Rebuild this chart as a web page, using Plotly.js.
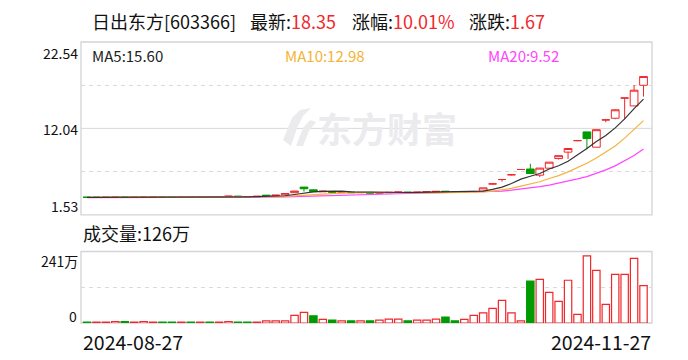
<!DOCTYPE html>
<html><head><meta charset="utf-8">
<script src="https://cdn.plot.ly/plotly-3.0.1.min.js"></script>
<style>html,body{margin:0;padding:0;background:#fff;}#chart{width:688px;height:360px;}</style>
</head><body><div id="chart"></div>
<script>
const dates = ['2024-08-27','2024-08-28','2024-08-29','2024-08-30',
'2024-09-02','2024-09-03','2024-09-04','2024-09-05','2024-09-06','2024-09-09','2024-09-10','2024-09-11','2024-09-12','2024-09-13','2024-09-18','2024-09-19','2024-09-20','2024-09-23','2024-09-24','2024-09-25','2024-09-26','2024-09-27','2024-09-30',
'2024-10-08','2024-10-09','2024-10-10','2024-10-11','2024-10-14','2024-10-15','2024-10-16','2024-10-17','2024-10-18','2024-10-21','2024-10-22','2024-10-23','2024-10-24','2024-10-25','2024-10-28','2024-10-29','2024-10-30','2024-10-31',
'2024-11-01','2024-11-04','2024-11-05','2024-11-06','2024-11-07','2024-11-08','2024-11-11','2024-11-12','2024-11-13','2024-11-14','2024-11-15','2024-11-18','2024-11-19','2024-11-20','2024-11-21','2024-11-22','2024-11-25','2024-11-26','2024-11-27'];
const openP  = [3.67,3.66,3.66,3.67,3.68,3.66,3.67,3.68,3.69,3.67,3.66,3.67,3.66,3.67,3.66,3.70,3.80,3.76,3.70,3.92,3.86,3.96,4.22,4.90,4.57,4.33,4.38,4.28,4.30,4.22,4.25,4.16,4.20,4.24,4.30,4.22,4.26,4.32,4.40,4.30,4.28,4.33,4.41,5.29,5.82,6.40,7.04,7.10,6.35,7.20,8.37,9.15,10.55,11.61,9.75,13.07,13.27,15.73,14.77,17.28];
const highP  = [3.67,3.67,3.68,3.68,3.76,3.68,3.76,3.76,3.69,3.68,3.68,3.67,3.68,3.67,3.67,3.82,3.82,3.77,3.79,3.94,3.94,4.14,4.44,4.92,4.60,4.44,4.40,4.35,4.32,4.28,4.26,4.24,4.28,4.32,4.31,4.30,4.35,4.40,4.42,4.31,4.34,4.45,4.81,5.29,5.82,6.40,7.04,7.74,7.21,7.93,8.72,9.59,10.55,11.61,11.88,13.07,14.38,15.73,17.32,18.35];
const lowP   = [3.65,3.65,3.66,3.66,3.66,3.65,3.66,3.67,3.66,3.65,3.66,3.65,3.66,3.65,3.65,3.70,3.72,3.69,3.70,3.82,3.85,3.95,4.20,4.35,4.32,4.30,4.26,4.26,4.20,4.20,4.16,4.14,4.18,4.22,4.20,4.20,4.25,4.30,4.28,4.26,4.27,4.30,4.40,5.20,5.57,6.30,7.04,6.55,6.11,7.18,8.25,8.33,10.48,9.50,9.75,12.79,13.15,13.15,14.77,15.90];
const closeP = [3.66,3.66,3.67,3.68,3.66,3.67,3.68,3.69,3.67,3.66,3.67,3.66,3.67,3.66,3.66,3.80,3.74,3.70,3.78,3.84,3.92,4.12,4.42,4.70,4.35,4.40,4.28,4.32,4.22,4.25,4.18,4.22,4.26,4.30,4.22,4.28,4.33,4.38,4.30,4.28,4.33,4.37,4.81,5.29,5.82,6.40,7.04,6.55,7.21,7.93,8.72,9.59,10.55,10.80,11.88,13.07,14.30,15.73,16.68,18.35];
const volume = [3,3,3,5,5,3,5,3,3,3,3,3,3,3,3,5,3,3,3,7,7,7,26,36,24,12,10,7,7,7,7,10,13,13,7,10,10,13,20,7,12,26,34,49,76,34,7,141,147,103,73,144,29,226,177,63,164,164,218,126];
const ma5  = [3.64,3.64,3.64,3.64,3.64,3.65,3.65,3.66,3.66,3.66,3.66,3.66,3.66,3.66,3.66,3.68,3.70,3.71,3.74,3.77,3.80,3.85,4.00,4.20,4.32,4.38,4.43,4.41,4.31,4.29,4.25,4.23,4.23,4.24,4.24,4.26,4.28,4.30,4.30,4.31,4.32,4.33,4.42,4.62,4.90,5.34,5.87,6.22,6.55,7.10,7.49,8.05,8.80,9.60,10.45,11.18,12.10,13.20,14.45,15.60];
const ma10 = [3.66,3.66,3.66,3.66,3.66,3.66,3.66,3.66,3.66,3.66,3.66,3.66,3.66,3.66,3.66,3.67,3.68,3.69,3.70,3.72,3.74,3.77,3.82,3.90,3.97,4.04,4.10,4.16,4.22,4.25,4.26,4.25,4.22,4.20,4.19,4.18,4.18,4.19,4.20,4.22,4.25,4.27,4.33,4.42,4.55,4.75,5.02,5.25,5.55,5.95,6.30,6.75,7.25,7.80,8.45,9.15,9.90,10.85,11.90,12.98];
const ma20 = [3.62,3.62,3.62,3.62,3.62,3.62,3.62,3.62,3.62,3.62,3.62,3.62,3.62,3.62,3.62,3.64,3.65,3.66,3.67,3.68,3.68,3.70,3.73,3.77,3.81,3.85,3.88,3.92,3.95,3.98,4.00,4.03,4.06,4.09,4.12,4.15,4.17,4.19,4.21,4.22,4.23,4.25,4.28,4.33,4.42,4.52,4.64,4.76,4.95,5.15,5.38,5.64,5.90,6.18,6.55,7.00,7.48,8.08,8.75,9.52];
const priceTicks = [1.53, 12.04, 22.54];
const volTicks = [0, 241];
const stockName = '日出东方';
const stockCode = '603366';
const lastPrice = '18.35';
const pctChange = '10.01%';
const priceChange = '1.67';
const lastVolume = '126万';

const RED = '#f0272b', GREEN = '#009b00';
const W = 688, H = 360, L = 81, R = 652, T = 42, B = 323.3;
const px = x => (x - L) / (R - L);
const py = y => (B - y) / (B - T);
const FONT = "'Noto Sans CJK SC', 'Noto Sans', sans-serif";
const idx = dates.map((d, i) => i);

const volUp = volume.map((v, i) => closeP[i] >= (i > 0 ? closeP[i-1] : openP[i]));

const traces = [
  {type:'candlestick', x: idx, open: openP, high: highP, low: lowP, close: closeP,
   xaxis:'x', yaxis:'y', whiskerwidth: 0, hoverinfo:'skip',
   increasing:{line:{color:RED, width:1}, fillcolor:'#ffffff'},
   decreasing:{line:{color:GREEN, width:1}, fillcolor:GREEN}},
  {type:'scatter', mode:'lines', x: idx, y: ma20, line:{color:'#ff45ff', width:1.2}, hoverinfo:'skip'},
  {type:'scatter', mode:'lines', x: idx, y: ma10, line:{color:'#f7b23b', width:1.2}, hoverinfo:'skip'},
  {type:'scatter', mode:'lines', x: idx, y: ma5, line:{color:'#333333', width:1.2}, hoverinfo:'skip'},
  {type:'bar', x: idx, y: volume, xaxis:'x', yaxis:'y2', width: 0.78, hoverinfo:'skip',
   marker:{color: volUp.map(u => u ? '#ffffff' : GREEN),
           line:{color: volUp.map(u => u ? RED : GREEN), width:1.2}}}
];

const pMid1 = (priceTicks[0] + priceTicks[1]) / 2, pMid2 = (priceTicks[1] + priceTicks[2]) / 2;
const vMid = (volTicks[0] + volTicks[1]) / 2;

const ann = [];
const A = (text, x, y, xanchor, size, color, extra) => ann.push(Object.assign({
  text, xref:'paper', yref:'paper', x: px(x), y: py(y), xanchor, yanchor:'middle',
  showarrow:false, font:{family:FONT, size, color}, borderpad:0}, extra || {}));

A(stockName + '[' + stockCode + ']', 91, 21, 'left', 18, '#111');
A('最新:<span style="color:' + RED + '">' + lastPrice + '</span>', 249, 21, 'left', 18, '#111');
A('涨幅:<span style="color:' + RED + '">' + pctChange + '</span>', 351, 21, 'left', 18, '#111');
A('涨跌:<span style="color:' + RED + '">' + priceChange + '</span>', 468, 21, 'left', 18, '#111');
A('MA5:' + ma5[ma5.length-1].toFixed(2), 91, 56, 'left', 15, '#222');
A('MA10:' + ma10[ma10.length-1].toFixed(2), 284, 56, 'left', 15, '#f5b335');
A('MA20:' + ma20[ma20.length-1].toFixed(2), 487, 56, 'left', 15, '#ff44ff');
A(priceTicks[2].toFixed(2), 79, 53, 'right', 14, '#111');
A(priceTicks[1].toFixed(2), 79, 129, 'right', 14, '#111');
A(priceTicks[0].toFixed(2), 79, 205.7, 'right', 14, '#111');
A('成交量:' + lastVolume, 82, 233.7, 'left', 18, '#111');
A(volTicks[1] + '万', 79, 261, 'right', 14, '#111');
A(String(volTicks[0]), 78, 316, 'right', 14, '#111');
A(dates[0], 82, 341.7, 'left', 19.5, '#111');
A(dates[dates.length-1], 652, 341.7, 'right', 19.5, '#111');
A('东方财富', 316, 128, 'left', 35, '#ebebee', {font:{family:FONT, size:35, color:'#ebebee', weight:700}});

// watermark logo (decorative)
const P = (pts) => pts.map((p, k) => (k ? 'L' : 'M') + px(p[0]).toFixed(4) + ',' + py(p[1]).toFixed(4)).join(' ') + ' Z';
const logo1 = P([[283,140],[292,118],[300,110],[311,108],[303,116],[297,128],[291,146]]);
const logo2 = P([[296,146],[303,128],[310,120],[316,122],[309,131],[303,146]]);

const border = (yref) => ({type:'rect', xref:'x domain', yref: yref + ' domain', x0:0, x1:1, y0:0, y1:1,
  line:{color:'#d3d3d8', width:1.3}, layer:'below'});

const layout = {
  width: W, height: H, paper_bgcolor:'#fff', plot_bgcolor:'#fff', showlegend:false,
  margin:{l:L, r:W-R, t:T, b:H-B, pad:0},
  boxgap: 0.18, boxgroupgap: 0,
  xaxis:{range:[-0.64, 59.9], showgrid:false, zeroline:false, showticklabels:false, ticks:'', showline:false,
         rangeslider:{visible:false}, fixedrange:true},
  yaxis:{domain:[py(215), 1], range:[priceTicks[0], priceTicks[2]], tickvals:[pMid1, pMid2], showticklabels:false,
         showgrid:true, gridcolor:'#dadada', griddash:'4px,4px', gridwidth:1, zeroline:false, ticks:'', fixedrange:true},
  yaxis2:{domain:[0, py(251.7)], range:[volTicks[0], volTicks[1]], tickvals:[vMid], showticklabels:false, anchor:'x',
         showgrid:true, gridcolor:'#dadada', griddash:'4px,4px', gridwidth:1, zeroline:false, ticks:'', fixedrange:true},
  shapes:[
    border('y'), border('y2'),
    {type:'line', xref:'x domain', yref:'y', x0:0, x1:1, y0:priceTicks[1], y1:priceTicks[1], line:{color:'#d8d8d8', width:1}, layer:'below'},
    {type:'path', xref:'paper', yref:'paper', path: logo1, fillcolor:'#ebebee', line:{width:0}, layer:'below'},
    {type:'path', xref:'paper', yref:'paper', path: logo2, fillcolor:'#ebebee', line:{width:0}, layer:'below'}
  ],
  annotations: ann
};
Plotly.newPlot('chart', traces, layout, {staticPlot:true, displayModeBar:false});
</script></body></html>
